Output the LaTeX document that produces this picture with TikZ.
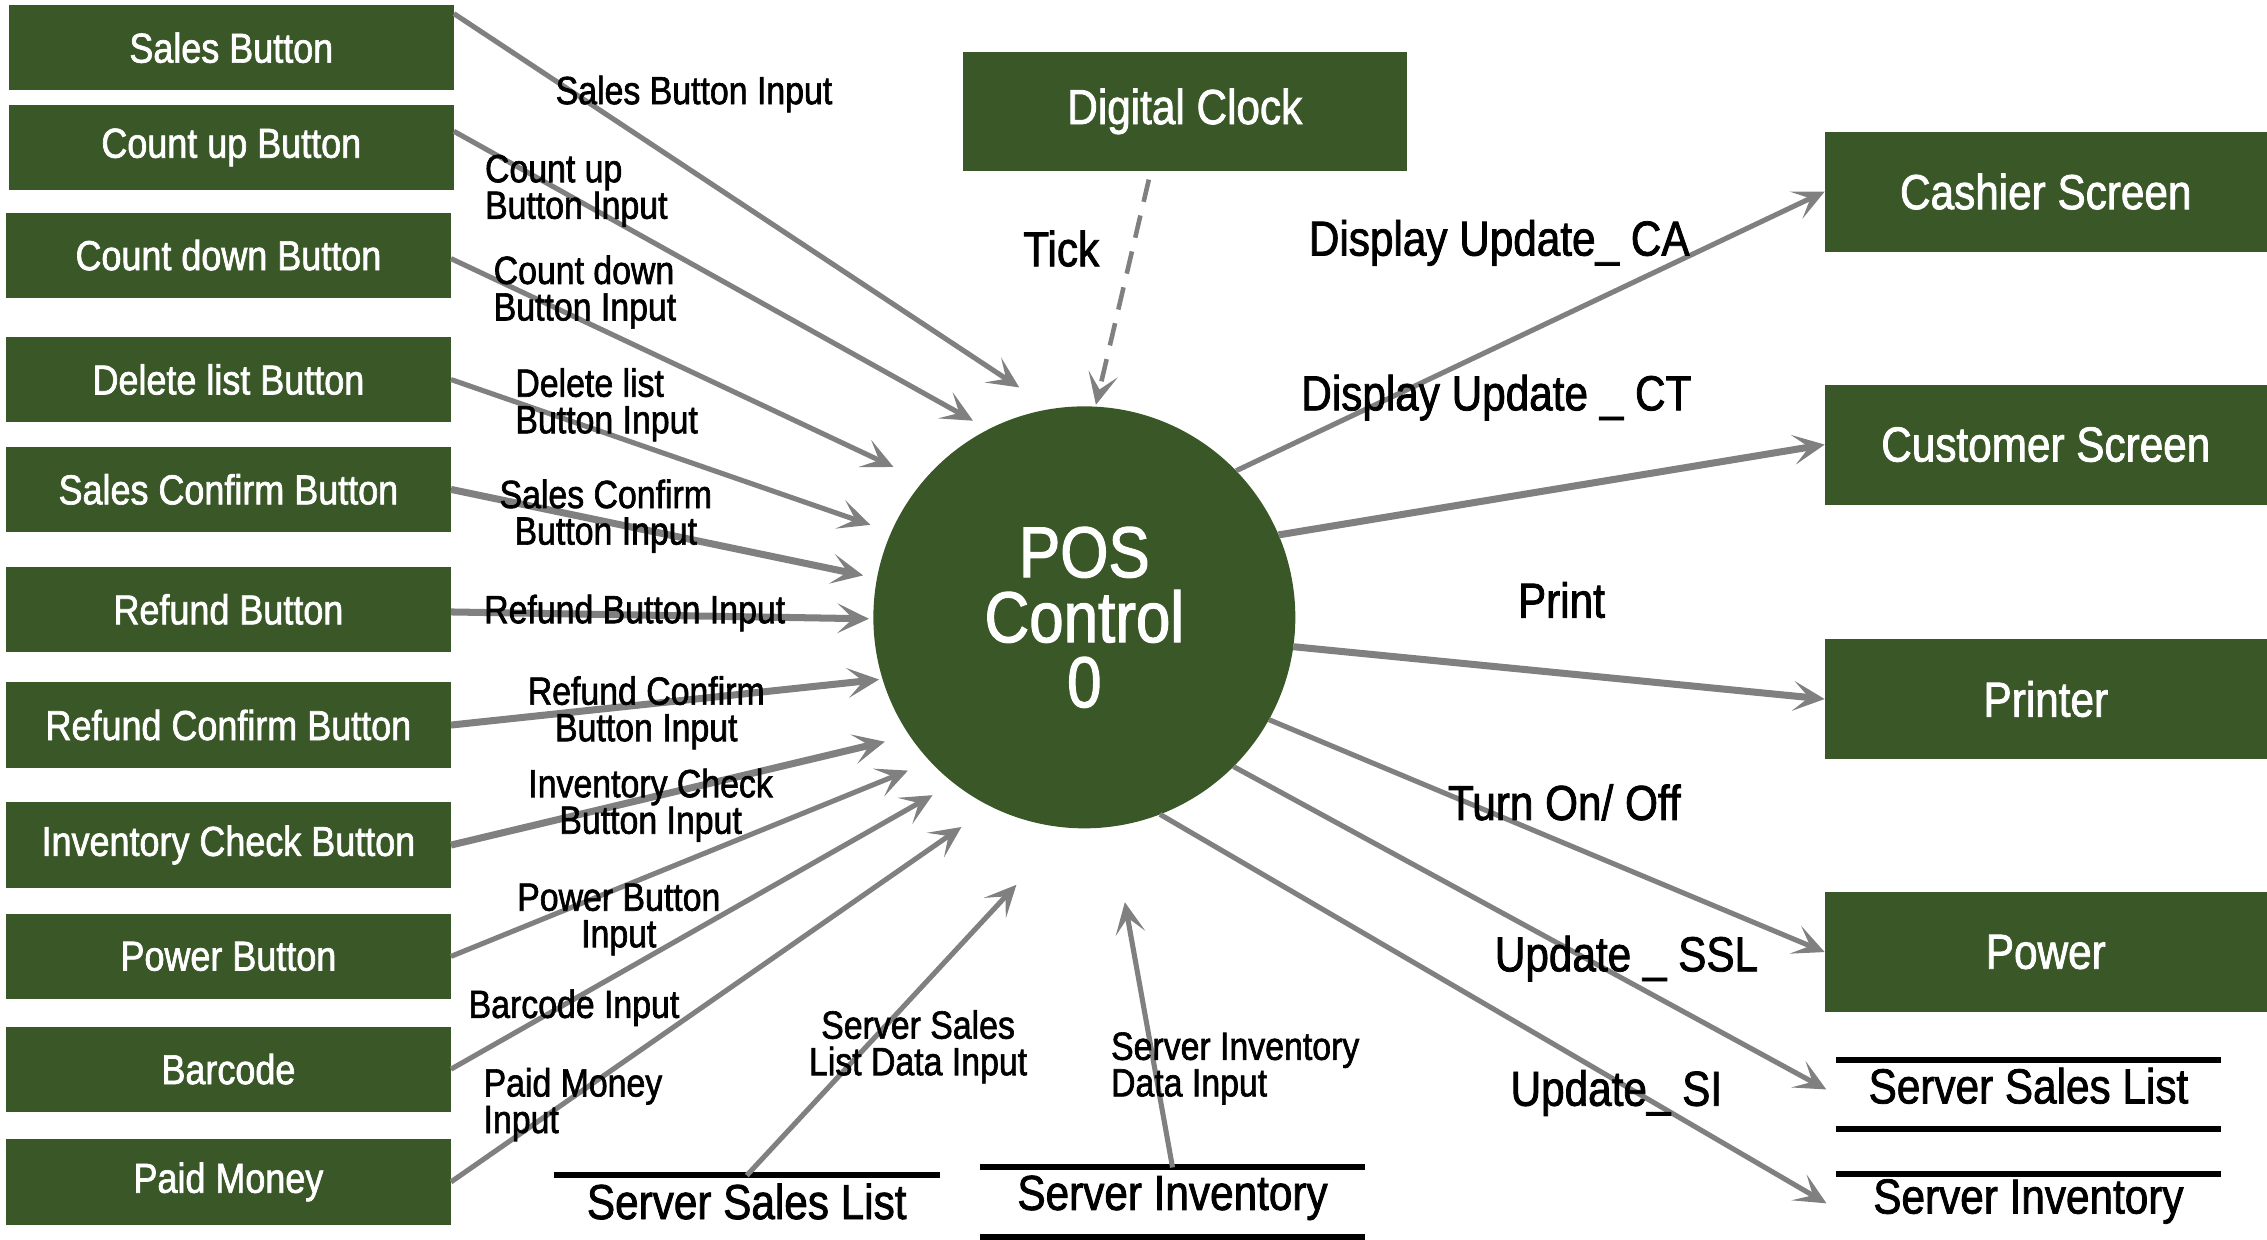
\documentclass[tikz,border=0pt]{standalone}
\usepackage{fontspec}
\setmainfont[FakeStretch=0.86,FakeBold=1.6]{Liberation Sans}
\usetikzlibrary{arrows.meta,calc}
\definecolor{boxgreen}{RGB}{58,87,39}
\definecolor{flowgrey}{RGB}{128,128,128}
\begin{document}
\begin{tikzpicture}[x=0.014458cm,y=-0.014458cm,
  ext/.style={fill=boxgreen,text=white,inner sep=0pt,outer sep=0pt,
    minimum width=4.453cm,minimum height=0.853cm,font=\fontsize{11.9}{13}\selectfont},
  rext/.style={ext,minimum width=4.424cm,minimum height=1.2cm,font=\fontsize{14}{15}\selectfont},
  store/.style={inner sep=0pt,outer sep=0pt,minimum width=3.86cm,minimum height=0.694cm,
    font=\fontsize{14}{15}\selectfont},
  storeline/.style={line width=1.7pt,black},
  flow/.style={draw=flowgrey,line width=1.45pt,
    -{Stealth[length=9pt,width=8.5pt,inset=4.5pt,fill=flowgrey]}},
  thick flow/.style={flow,line width=2pt},
  lab/.style={inner sep=0pt,font=\fontsize{11.2}{10.4}\selectfont},
  blab/.style={inner sep=0pt,font=\fontsize{14}{15}\selectfont}]
\useasboundingbox (0,0) rectangle (1568,857);

% external entities (left)
\node[ext] (sb)  at (160,33)  {Sales Button};
\node[ext] (cub) at (160,102) {Count up Button};
\node[ext] (cdb) at (158,176.5) {Count down Button};
\node[ext] (dlb) at (158,262.5) {Delete list Button};
\node[ext] (scb) at (158,338.5) {Sales Confirm Button};
\node[ext] (rb)  at (158,421.5) {Refund Button};
\node[ext] (rcb) at (158,501.5) {Refund Confirm Button};
\node[ext] (icb) at (158,584.5) {Inventory Check Button};
\node[ext] (pb)  at (158,661.5) {Power Button};
\node[ext] (bc)  at (158,739.5) {Barcode};
\node[ext] (pm)  at (158,817.5) {Paid Money};

% other entities
\node[rext,minimum width=4.439cm,minimum height=1.186cm] (dc) at (819.5,77) {Digital Clock};
\node[rext] (cas) at (1415,132.5) {Cashier Screen};
\node[rext] (cus) at (1415,307.5) {Customer Screen};
\node[rext] (prn) at (1415,483.5) {Printer};
\node[rext] (pwr) at (1415,658.5) {Power};

% process
\node[circle,fill=boxgreen,text=white,minimum size=4.222cm,inner sep=0pt,outer sep=0pt,
  align=center,font=\fontsize{20.5}{18.5}\selectfont] (pos) at (750,427) {POS\\Control\\0};

% data stores (text sits slightly above the middle of the two lines)
\node[store] (bss)  at (516.5,831) {Server Sales List};
\node[store] (bsi)  at (811,828.5) {Server Inventory};
\node[store] (rssl) at (1403,751) {Server Sales List};
\node[store] (rsi)  at (1403,831) {Server Inventory};
\draw[storeline] ([yshift=-0.087cm]bss.north west) -- ([yshift=-0.087cm]bss.north east);
\draw[storeline] ([yshift=-0.043cm]bsi.north west) -- ([yshift=-0.043cm]bsi.north east);
\draw[storeline] ([yshift=-0.043cm]bsi.south west) -- ([yshift=-0.043cm]bsi.south east);
\draw[storeline] ([yshift=-0.087cm]rssl.north west) -- ([yshift=-0.087cm]rssl.north east);
\draw[storeline] ([yshift=-0.087cm]rssl.south west) -- ([yshift=-0.087cm]rssl.south east);
\draw[storeline] ([yshift=-0.072cm]rsi.north west) -- ([yshift=-0.072cm]rsi.north east);

% arrow ends near the process
\coordinate (e1)  at (705,268);
\coordinate (e2)  at (673,291);
\coordinate (e3)  at (618,323);
\coordinate (e4)  at (602,363);
\coordinate (e5)  at (597,398);
\coordinate (e6)  at (601,428);
\coordinate (e7)  at (608,470);
\coordinate (e8)  at (612,513);
\coordinate (e9)  at (628,533);
\coordinate (e10) at (645,550);
\coordinate (e11) at (665,572);
\coordinate (e12) at (703,612);
\coordinate (e13) at (778,624);
\coordinate (e14) at (758,280);

% input flows
\draw[flow] ($(sb.north east)!0.1!(sb.south east)$) -- (e1);
\draw[flow] ($(cub.north east)!0.31!(cub.south east)$) -- (e2);
\draw[flow] ($(cdb.north east)!0.54!(cdb.south east)$) -- (e3);
\draw[flow] (dlb.east) -- (e4);
\draw[thick flow] (scb.east) -- (e5);
\draw[thick flow] ($(rb.north east)!0.53!(rb.south east)$) -- (e6);
\draw[thick flow] (rcb.east) -- (e7);
\draw[thick flow] (icb.east) -- (e8);
\draw[flow] (pb.east) -- (e9);
\draw[flow] (bc.east) -- (e10);
\draw[flow] (pm.east) -- (e11);
\draw[flow] ([yshift=-0.087cm]bss.north) -- (e12);
\draw[flow] ([yshift=-0.043cm]bsi.north) -- (e13);
\draw[flow,dashed,dash pattern=on 6.5pt off 4pt,line width=1.3pt] ([xshift=-0.36cm,yshift=-0.09cm]dc.south) -- (e14);

% output flows
\draw[flow] (pos.44.5) -- (cas.west);
\draw[thick flow] (pos.23.1) -- (cus.west);
\draw[thick flow] (pos.-8.1) -- (prn.west);
\draw[flow] (pos.-29.8) -- (pwr.west);
\draw[flow,shorten >=3pt] (pos.-45.8) -- ([yshift=-0.087cm]rssl.west);
\draw[flow,shorten >=3pt] (pos.-69.3) -- ([yshift=-0.072cm]rsi.west);

% flow labels
\node[lab] (l1) at (480,65) {Sales Button Input};
\node[lab,anchor=west,align=left] (l2) at (335,132) {Count up\\Button Input};
\node[lab,anchor=west,align=left] (l3) at (341,202) {Count down\\Button Input};
\node[lab,anchor=west,align=left] (l4) at (356,280) {Delete list\\Button Input};
\node[lab,align=center] (l5) at (419,357) {Sales Confirm\\Button Input};
\node[lab] (l6) at (439,424) {Refund Button Input};
\node[lab,align=center] (l7) at (447,493) {Refund Confirm\\Button Input};
\node[lab,align=center] (l8) at (450,557) {Inventory Check\\Button Input};
\node[lab,align=center] (l9) at (428,636) {Power Button\\Input};
\node[lab] (l10) at (397,697) {Barcode Input};
\node[lab,anchor=west,align=left] (l11) at (334,764) {Paid Money\\Input};
\node[lab,align=center] (l12) at (635,724) {Server Sales\\List Data Input};
\node[lab,anchor=west,align=left] (l13) at (768,739) {Server Inventory\\Data Input};
\node[blab] (l14) at (734,172) {Tick};
\node[blab] (l15) at (1037,168) {Display Update\_ CA};
\node[blab] (l16) at (1035,275) {Display Update \_ CT};
\node[blab] (l17) at (1080,415) {Print};
\node[blab] (l18) at (1082,555) {Turn On/ Off};
\node[blab] (l19) at (1125,663) {Update \_ SSL};
\node[blab] (l20) at (1118,756) {Update\_ SI};
\end{tikzpicture}
\end{document}
